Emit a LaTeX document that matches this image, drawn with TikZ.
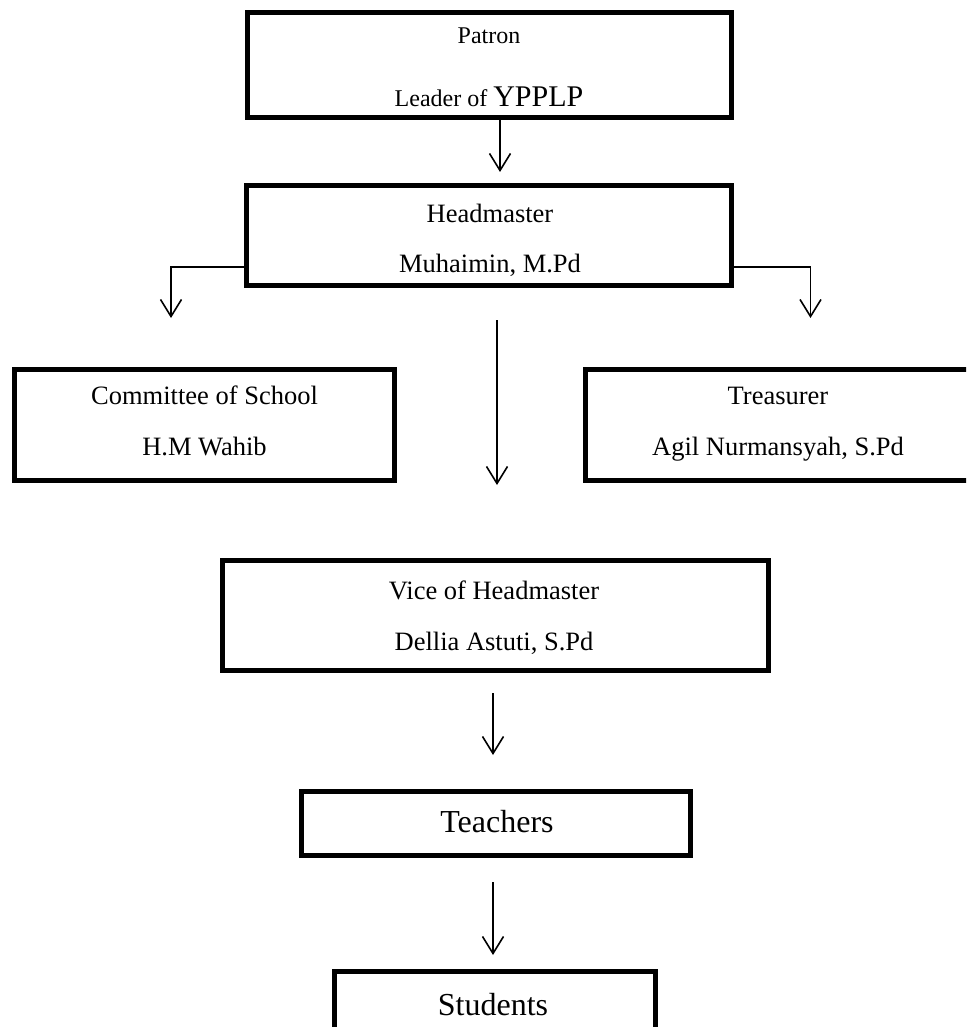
\documentclass[tikz,border=0pt]{standalone}
\usepackage{fontspec}
\setmainfont{Liberation Serif}
\usetikzlibrary{arrows.meta}
\begin{document}
\begin{tikzpicture}[x=1pt,y=-1pt,
  box/.style={draw, line width=5pt, rectangle, inner sep=0pt, outer sep=0pt},
  lbl/.style={anchor=base, inner sep=0pt, font=\fontsize{26.5pt}{30pt}\selectfont},
  small/.style={anchor=base, inner sep=0pt, font=\fontsize{24pt}{28pt}\selectfont},
  big/.style={anchor=base, inner sep=0pt, font=\fontsize{32pt}{36pt}\selectfont},
  arr/.style={line width=1.6pt, -{Straight Barb[length=17pt,width=21pt]}}]
\useasboundingbox[fill=white] (0,0) rectangle (966,1027);
\clip (0,0) rectangle (966,1027);

% boxes
\node[box, minimum width=483.5pt, minimum height=105.5pt] (patron) at (489.25,65.25) {};
\node[box, minimum width=484.5pt, minimum height=100pt] (head) at (489,235.5) {};
\node[box, minimum width=380pt, minimum height=111pt] (comm) at (204.5,425) {};
\node[box, minimum width=389.5pt, minimum height=111pt] (treas) at (780.25,425) {};
\node[box, minimum width=546pt, minimum height=109.5pt] (vice) at (495,615.25) {};
\node[box, minimum width=389pt, minimum height=64pt] (teach) at (496,823.5) {};
\node[box, minimum width=320.5pt, minimum height=89pt] (stud) at (494.75,1015.5) {};

% texts
\node[small] (t1) at (489,44) {Patron};
\node[small] (t2) at (489,107) {Leader of \fontsize{30pt}{34pt}\selectfont YPPLP};
\node[lbl] (t3) at (490,222) {Headmaster};
\node[lbl] (t4) at (490,272) {Muhaimin, M.Pd};
\node[lbl] (t5) at (204.5,404) {Committee of School};
\node[lbl] (t6) at (204.5,455) {H.M Wahib};
\node[lbl] (t7) at (778,404) {Treasurer};
\node[lbl] (t8) at (778,455) {Agil Nurmansyah, S.Pd};
\node[lbl] (t9) at (494,599) {Vice of Headmaster};
\node[lbl] (t10) at (494,650) {Dellia Astuti, S.Pd};
\node[big] (t11) at (497,832) {Teachers};
\node[big] (t12) at (493,1015) {Students};

% connectors
\coordinate (c1) at (500,172);
\draw[arr] (patron.south -| c1) -- (c1);

\coordinate (cl) at (171,318);
\coordinate (cr) at (810.5,318);
\draw[arr] ([yshift=-31.5pt]head.west) -| (cl);
\draw[arr] ([yshift=-31.5pt]head.east) -| (cr);

\coordinate (c2a) at (497,320);
\coordinate (c2b) at (497,485);
\draw[arr] (c2a) -- (c2b);

\coordinate (c3a) at (493,693);
\coordinate (c3b) at (493,755);
\draw[arr] (c3a) -- (c3b);

\coordinate (c4a) at (493,882);
\coordinate (c4b) at (493,955);
\draw[arr] (c4a) -- (c4b);
\end{tikzpicture}
\end{document}
